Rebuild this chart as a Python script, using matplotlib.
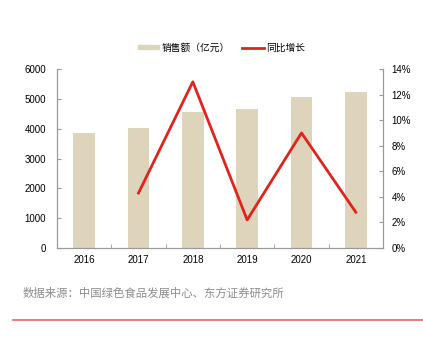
import matplotlib
matplotlib.use("Agg")
import matplotlib.pyplot as plt
from matplotlib.ticker import FuncFormatter, FixedLocator
from matplotlib.lines import Line2D

plt.rcParams['font.family'] = ['Liberation Sans', 'Noto Sans CJK SC', 'DejaVu Sans']

years = ['2016', '2017', '2018', '2019', '2020', '2021']
sales = [3866, 4034, 4557, 4657, 5076, 5218]
growth_years = ['2017', '2018', '2019', '2020', '2021']
growth = [4.3, 13.0, 2.2, 9.0, 2.8]

bar_color = '#DED4BC'
line_color = '#E0231C'
spine_color = '#999999'

fig = plt.figure(figsize=(4.23, 3.44), dpi=100)
ax = fig.add_axes([0.1348, 0.279, 0.7706, 0.5204])
x = list(range(len(years)))
ax.bar(x, sales, width=0.4, color=bar_color, zorder=2)
ax.set_xlim(-0.5, len(years) - 0.5)
ax.set_ylim(0, 6000)
ax.set_yticks(range(0, 6001, 1000))
ax.set_xticks(x)
ax.set_xticklabels(years)
ax.xaxis.set_minor_locator(FixedLocator([i + 0.5 for i in range(-1, len(years))]))
ax.tick_params(axis='x', which='major', length=0, pad=5, labelsize=7)
ax.tick_params(axis='x', which='minor', length=3, direction='in', color=spine_color)
ax.tick_params(axis='y', length=3, direction='in', color=spine_color, labelsize=7, pad=8)

ax2 = ax.twinx()
gx = [years.index(y) for y in growth_years]
ax2.plot(gx, growth, color=line_color, lw=2, zorder=3)
ax2.set_ylim(0, 14)
ax2.set_yticks(range(0, 15, 2))
ax2.yaxis.set_major_formatter(FuncFormatter(lambda v, p: f'{int(v)}%'))
ax2.tick_params(axis='y', length=3, direction='in', color=spine_color, labelsize=7, pad=6)

for a in (ax, ax2):
    a.spines['top'].set_visible(False)
    for s in ('left', 'right', 'bottom'):
        a.spines[s].set_color(spine_color)
        a.spines[s].set_linewidth(0.8)

handles = [plt.Rectangle((0, 0), 1, 1, color=bar_color),
           Line2D([0], [0], color=line_color, lw=2)]
fig.legend(handles, ['销售额（亿元）', '同比增长'], loc='center',
           bbox_to_anchor=(221.5 / 423, 0.862), ncol=2, frameon=False, fontsize=7,
           handlelength=2.2, handleheight=0.4, columnspacing=1.3, handletextpad=0.25)

fig.text(23 / 423, 1 - 293 / 344, '数据来源：中国绿色食品发展中心、东方证券研究所',
         fontsize=8.2, color='#8C8C8C', va='center', ha='left')
fig.add_artist(Line2D([13 / 423, 1.0], [1 - 320 / 344, 1 - 320 / 344],
                      color='#E06666', lw=1.2, transform=fig.transFigure))

fig.savefig('out.png', dpi=100)
